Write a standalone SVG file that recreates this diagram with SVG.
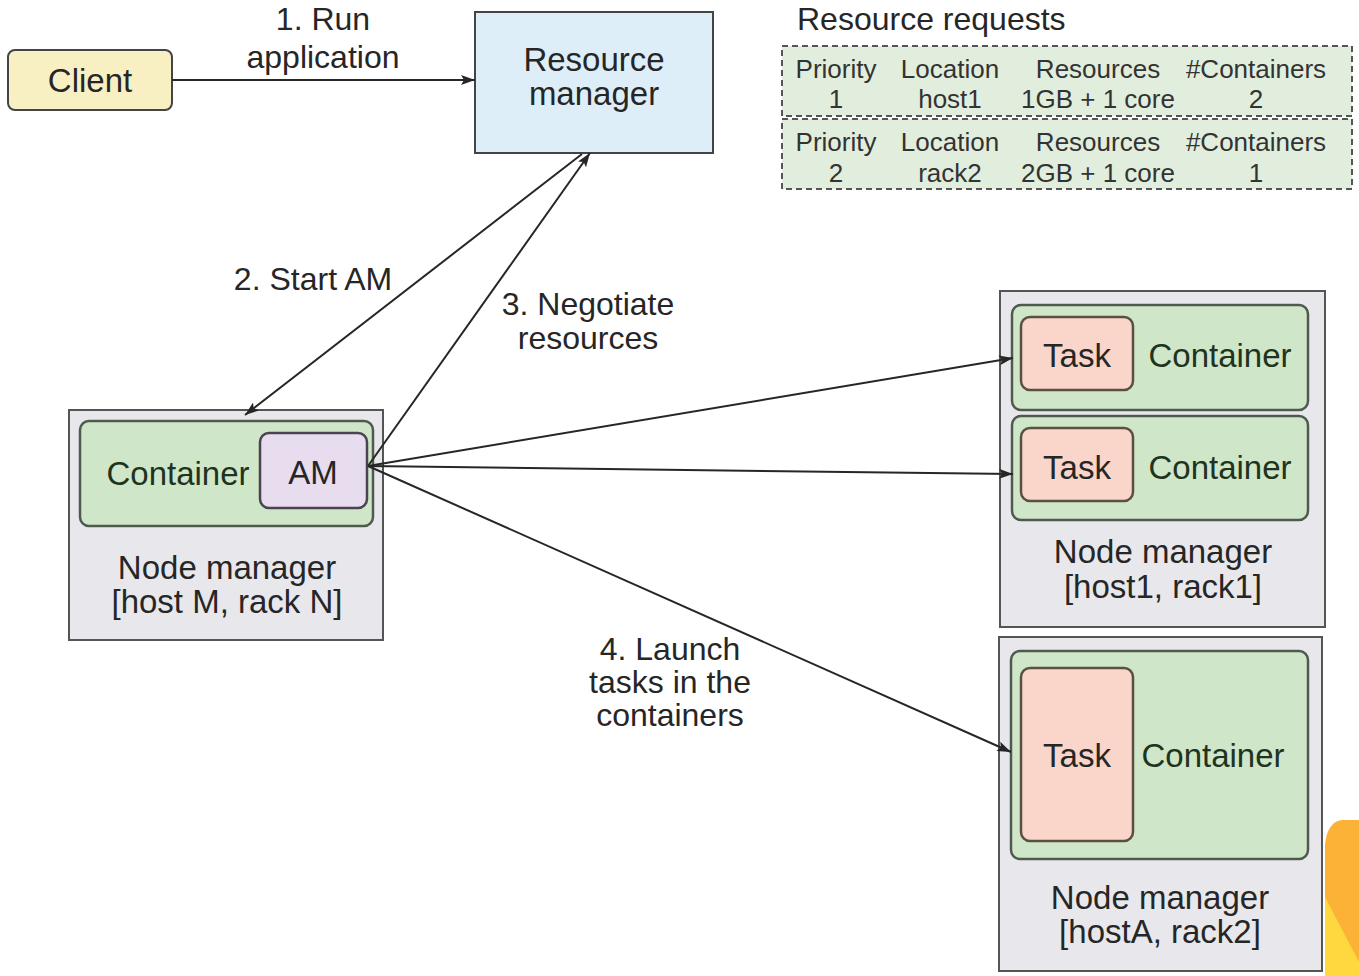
<svg xmlns="http://www.w3.org/2000/svg" width="1359" height="976" viewBox="0 0 1359 976">
<style>
text{font-family:"Liberation Sans",Arial,sans-serif;fill:#262626;text-anchor:middle}
.big{font-size:33px}
.lbl{font-size:32px}
.tbl{font-size:26px;fill:#333}
.nm{fill:#e8e8ec;stroke:#555;stroke-width:2}
.ct{fill:#cfe6c9;stroke:#4f5a4f;stroke-width:2.5}
.task{fill:#f9d6c9;stroke:#5a5040;stroke-width:2.5}
.ctxt{fill:#1f3320}
.conn line{stroke:#262626;stroke-width:2;fill:none}
</style>
<defs>
<marker id="ah" viewBox="0 0 14 10" refX="14" refY="5" markerWidth="14" markerHeight="10" markerUnits="userSpaceOnUse" orient="auto">
<path d="M0,0 L14,5 L0,10 L3,5 Z" fill="#262626"/>
</marker>
</defs>
<rect width="1359" height="976" fill="#ffffff"/>

<g id="client">
<rect x="8" y="50" width="164" height="60" rx="7" fill="#f8f0c2" stroke="#444" stroke-width="2"/>
<text x="90" y="92" class="big">Client</text>
</g>

<g id="resource-manager">
<rect x="475" y="12" width="238" height="141" fill="#ddeef9" stroke="#444" stroke-width="2"/>
<text x="594" y="71" class="big">Resource</text>
<text x="594" y="105" class="big">manager</text>
</g>

<g id="resource-requests">
<text x="797" y="30" class="lbl" style="text-anchor:start">Resource requests</text>
<rect x="782" y="46" width="570" height="70" fill="#e2eedd" stroke="#555" stroke-width="2" stroke-dasharray="6,4"/>
<rect x="782" y="119" width="570" height="70" fill="#e2eedd" stroke="#555" stroke-width="2" stroke-dasharray="6,4"/>
<text x="836" y="78" class="tbl">Priority</text>
<text x="950" y="78" class="tbl">Location</text>
<text x="1098" y="78" class="tbl">Resources</text>
<text x="1256" y="78" class="tbl">#Containers</text>
<text x="836" y="108" class="tbl">1</text>
<text x="950" y="108" class="tbl">host1</text>
<text x="1098" y="108" class="tbl">1GB + 1 core</text>
<text x="1256" y="108" class="tbl">2</text>
<text x="836" y="151" class="tbl">Priority</text>
<text x="950" y="151" class="tbl">Location</text>
<text x="1098" y="151" class="tbl">Resources</text>
<text x="1256" y="151" class="tbl">#Containers</text>
<text x="836" y="182" class="tbl">2</text>
<text x="950" y="182" class="tbl">rack2</text>
<text x="1098" y="182" class="tbl">2GB + 1 core</text>
<text x="1256" y="182" class="tbl">1</text>
</g>

<g id="node-manager-m">
<rect x="69" y="410" width="314" height="230" class="nm"/>
<rect x="80" y="421" width="293" height="105" rx="9" class="ct"/>
<text x="178" y="485" class="big ctxt">Container</text>
<rect x="260" y="433" width="107" height="75" rx="9" fill="#e8dcef" stroke="#4a4450" stroke-width="2.5"/>
<text x="313" y="484" class="big">AM</text>
<text x="227" y="579" class="big">Node manager</text>
<text x="227" y="613" class="big">[host M, rack N]</text>
</g>

<g id="node-manager-host1">
<rect x="1000" y="291" width="325" height="336" class="nm"/>
<rect x="1012" y="305" width="296" height="105" rx="9" class="ct"/>
<rect x="1021" y="317" width="112" height="73" rx="9" class="task"/>
<text x="1077" y="367" class="big">Task</text>
<text x="1220" y="367" class="big ctxt">Container</text>
<rect x="1012" y="416" width="296" height="104" rx="9" class="ct"/>
<rect x="1021" y="428" width="112" height="73" rx="9" class="task"/>
<text x="1077" y="479" class="big">Task</text>
<text x="1220" y="479" class="big ctxt">Container</text>
<text x="1163" y="563" class="big">Node manager</text>
<text x="1163" y="598" class="big">[host1, rack1]</text>
</g>

<g id="node-manager-hosta">
<rect x="999" y="637" width="323" height="334" class="nm"/>
<rect x="1011" y="651" width="297" height="208" rx="9" class="ct"/>
<rect x="1021" y="668" width="112" height="173" rx="9" class="task"/>
<text x="1077" y="767" class="big">Task</text>
<text x="1213" y="767" class="big ctxt">Container</text>
<text x="1160" y="909" class="big">Node manager</text>
<text x="1160" y="943" class="big">[hostA, rack2]</text>
</g>

<g id="connectors" class="conn">
<line x1="172" y1="80" x2="475" y2="80" marker-end="url(#ah)"/>
<line x1="582" y1="154" x2="245" y2="415" marker-end="url(#ah)"/>
<line x1="368" y1="466" x2="590" y2="153" marker-end="url(#ah)"/>
<line x1="368" y1="466" x2="1013" y2="358" marker-end="url(#ah)"/>
<line x1="368" y1="466" x2="1013" y2="474" marker-end="url(#ah)"/>
<line x1="368" y1="466" x2="1011" y2="752" marker-end="url(#ah)"/>
</g>

<g id="labels">
<text x="323" y="30" class="lbl">1. Run</text>
<text x="323" y="68" class="lbl">application</text>
<text x="313" y="290" class="lbl">2. Start AM</text>
<text x="588" y="315" class="lbl">3. Negotiate</text>
<text x="588" y="349" class="lbl">resources</text>
<text x="670" y="660" class="lbl">4. Launch</text>
<text x="670" y="693" class="lbl">tasks in the</text>
<text x="670" y="726" class="lbl">containers</text>
</g>

<g id="corner-logo">
<path d="M1325,976 L1325,845 Q1327,822 1342,820 L1359,820 L1359,976 Z" fill="#fbb237"/>
<path d="M1325,897 L1359,962 L1359,976 L1325,976 Z" fill="#fdd83f"/>
</g>
</svg>
